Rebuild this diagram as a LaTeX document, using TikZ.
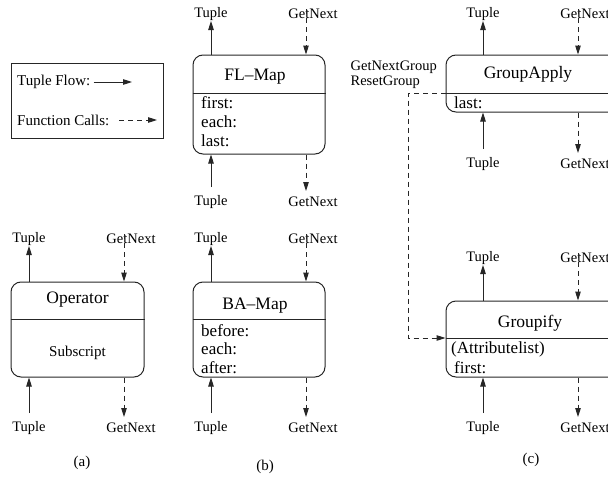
\documentclass[tikz,border=0pt]{standalone}
\usepackage{fontspec}
\setmainfont{Liberation Serif}
\usetikzlibrary{arrows.meta}

\tikzset{
  lbl/.style={inner sep=0pt, font=\fontsize{14.5}{16}\selectfont},
  captxt/.style={inner sep=0pt, font=\fontsize{15}{17}\selectfont},
  ttl/.style={inner sep=0pt, font=\fontsize{17.5}{20}\selectfont},
  body/.style={inner sep=0pt, anchor=west, font=\fontsize{17}{19}\selectfont},
  opbox/.style={draw=black!85, line width=1pt, rounded corners=10pt, inner sep=0pt},
  divider/.style={draw=black!85, line width=1pt},
  flow/.style={draw=black!85, line width=1pt, -{Triangle[length=9pt,width=5.5pt]}},
  call/.style={flow, dash pattern=on 5pt off 4pt},
}

% Tuple / GetNext ports above and below an operator box
% #1 box name, #2 x of tuple arrow, #3 x of call arrow, #4 y of upper labels, #5 y of lower labels
\newcommand\ioports[5]{%
  \node[lbl] (#1tt) at (#2-1,#4) {Tuple};
  \node[lbl] (#1gt) at (#3+7,#4) {GetNext};
  \node[lbl] (#1tb) at (#2-1,#5) {Tuple};
  \node[lbl] (#1gb) at (#3+7,#5) {GetNext};
  \coordinate (#1gx) at ([xshift=-7pt]#1gt.center);
  \coordinate (#1gy) at ([xshift=-7pt]#1gb.center);
  \draw[flow] (#1.north -| #1tt) -- ([yshift=-7pt]#1tt.center);
  \draw[call] ([yshift=5pt]#1gx) -- (#1gx |- #1.north);
  \draw[flow] ([yshift=15pt]#1tb.center) -- (#1tb |- #1.south);
  \draw[call] (#1gy |- #1.south) -- ([yshift=11pt]#1gy);
}

\begin{document}
\begin{tikzpicture}[x=1pt, y=-1pt]
\useasboundingbox (0,0) rectangle (608,479);
\clip (0,0) rectangle (608,479);

% legend
\node[draw=black!85, line width=1pt, minimum width=152pt, minimum height=75pt, inner sep=0pt] (legend) at (87,100.5) {};
\node[captxt, anchor=west] (lgflow) at (17,82) {Tuple Flow:};
\node[captxt, anchor=west] (lgcall) at (17,120) {Function Calls:};
\coordinate (lgflowend) at (132,82);
\coordinate (lgcallend) at (157,120);
\draw[flow] ([xshift=3pt]lgflow.east) -- (lgflowend);
\draw[call] ([xshift=10pt]lgcall.east) -- (lgcallend);

% (a) generic operator
\node[opbox, minimum width=133pt, minimum height=95pt] (A) at (77.5,329.5) {};
\draw[divider] (A.west |- 0,319) -- (A.east |- 0,319);
\node[ttl] (Attl) at (77.5,300) {Operator};
\node[captxt] (Asub) at (77.5,353) {Subscript};
\ioports{A}{30}{124}{239}{428}
\node[captxt] (capa) at (82,463) {(a)};

% (b) FL-Map
\node[opbox, minimum width=132pt, minimum height=99pt] (FL) at (259,104.5) {};
\draw[divider] (FL.west |- 0,93) -- (FL.east |- 0,93);
\node[ttl] (FLttl) at (255,77) {FL--Map};
\node[body] (FL1) at (201,103) {first:};
\node[body] (FL2) at (201,122) {each:};
\node[body] (FL3) at (201,141) {last:};
\ioports{FL}{212}{306}{14}{202}

% (b) BA-Map
\node[opbox, minimum width=132pt, minimum height=95pt] (BA) at (259,329.5) {};
\draw[divider] (BA.west |- 0,319) -- (BA.east |- 0,319);
\node[ttl] (BAttl) at (255,306) {BA--Map};
\node[body] (BA1) at (201,331) {before:};
\node[body] (BA2) at (201,349) {each:};
\node[body] (BA3) at (201,368) {after:};
\ioports{BA}{212}{306}{239}{428}
\node[captxt] (capb) at (265,467) {(b)};

% (c) GroupApply
\node[opbox, minimum width=214pt, minimum height=57pt] (GA) at (553,83.5) {};
\draw[divider] (GA.west |- 0,93) -- (GA.east |- 0,93);
\node[ttl] (GAttl) at (528,74) {GroupApply};
\node[body] (GA1) at (454,103) {last:};
\ioports{GA}{484}{578}{14}{164}

% (c) Groupify
\node[opbox, minimum width=214pt, minimum height=76pt] (GF) at (553,339) {};
\draw[divider] (GF.west |- 0,338) -- (GF.east |- 0,338);
\node[ttl] (GFttl) at (530,323) {Groupify};
\node[body] (GF1) at (451,349) {(Attributelist)};
\node[body] (GF2) at (454,368) {first:};
\ioports{GF}{484}{578}{258}{428}
\node[captxt] (capc) at (531,460) {(c)};

% group calls from GroupApply down to Groupify
\node[lbl, anchor=east, align=left] (grpcalls) at (437,74.5) {GetNextGroup\\[-1pt]ResetGroup};
\coordinate (gadiv) at (GA.west |- 0,93);
\coordinate (gfdiv) at (GF.west |- 0,338);
\coordinate (grpbend) at (408,93);
\draw[call] (gadiv) -- (grpbend) |- (gfdiv);
\end{tikzpicture}
\end{document}
